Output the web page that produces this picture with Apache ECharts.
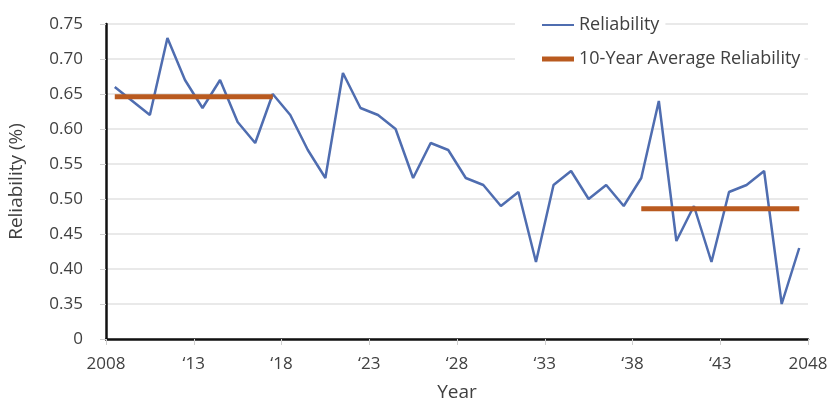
<!DOCTYPE html>
<html lang="en" style="height: 100%">

<head>
    <meta charset="UTF-8">
    <title>Reliability</title>
    <script src="https://cdn.jsdelivr.net/npm/echarts@6/dist/echarts.min.js"></script>
</head>

<body style="height: 100%; margin: 0">
    <div id="main" style="width: 832px; height: 400px"></div>
    <script>
        // one value per year, plotted in the middle of each year band
        var years = [];
        for (var y = 2009; y <= 2048; y++) years.push(y);
        var reliability = [
            0.66, 0.64, 0.62, 0.73, 0.67, 0.63, 0.67, 0.61, 0.58, 0.65,
            0.62, 0.57, 0.53, 0.68, 0.63, 0.62, 0.60, 0.53, 0.58, 0.57,
            0.53, 0.52, 0.49, 0.51, 0.41, 0.52, 0.54, 0.50, 0.52, 0.49,
            0.53, 0.64, 0.44, 0.49, 0.41, 0.51, 0.52, 0.54, 0.35, 0.43
        ];
        var xTicks = [2008, 2013, 2018, 2023, 2028, 2033, 2038, 2043, 2048];
        var xTickLabels = ['2008', '\u201813', '\u201818', '\u201823', '\u201828', '\u201833', '\u201838', '\u201843', '2048'];
        var yTicks = [0.30, 0.35, 0.40, 0.45, 0.50, 0.55, 0.60, 0.65, 0.70, 0.75];
        var yTickLabels = ['0', '0.35', '0.40', '0.45', '0.50', '0.55', '0.60', '0.65', '0.70', '0.75'];
        // the two 10-year windows (index ranges into reliability)
        var avgWindows = [[0, 10], [30, 40]];

        var textColor = '#404040';
        var font = 'Open Sans';

        var lineData = reliability.map(function (v, i) { return [years[i] - 0.5, v]; });

        var avgSeries = avgWindows.map(function (w) {
            var part = reliability.slice(w[0], w[1]);
            var mean = part.reduce(function (a, b) { return a + b; }, 0) / part.length;
            return {
                name: '10-Year Average Reliability',
                type: 'line',
                symbol: 'none',
                z: 3,
                lineStyle: { color: '#b95a1f', width: 5 },
                itemStyle: { color: '#b95a1f' },
                data: [[years[w[0]] - 0.5, mean], [years[w[1] - 1] - 0.5, mean]]
            };
        });

        var myChart = echarts.init(document.getElementById('main'));

        var option = {
            animation: false,
            textStyle: { fontFamily: font },
            grid: { left: 106, right: 24, top: 24, bottom: 61, outerBoundsMode: 'none' },
            legend: [
                {
                    data: ['Reliability'],
                    left: 515, top: 10,
                    padding: [6, 6, 4, 27],
                    backgroundColor: '#fff',
                    itemWidth: 32, itemHeight: 2, itemGap: 12,
                    icon: 'rect',
                    textStyle: { color: textColor, fontSize: 18, fontFamily: font }
                },
                {
                    data: ['10-Year Average Reliability'],
                    left: 515, top: 42,
                    padding: [8, 4, 10, 27],
                    backgroundColor: '#fff',
                    itemWidth: 32, itemHeight: 5,
                    icon: 'rect',
                    textStyle: { color: textColor, fontSize: 18, fontFamily: font }
                }
            ],
            xAxis: {
                type: 'value',
                min: 2008, max: 2048, interval: 5,
                name: 'Year',
                nameLocation: 'middle',
                nameGap: 44,
                nameTextStyle: { color: textColor, fontSize: 19, fontFamily: font },
                axisLine: { lineStyle: { color: '#111', width: 2.5 } },
                axisTick: { show: true, length: 6, lineStyle: { color: '#d0d0d0' } },
                axisLabel: {
                    color: textColor, fontSize: 17, margin: 17,
                    showMinLabel: true, showMaxLabel: true,
                    formatter: function (v) {
                        var i = xTicks.indexOf(Math.round(v));
                        return i >= 0 ? xTickLabels[i] : '';
                    }
                },
                splitLine: { show: false }
            },
            yAxis: {
                type: 'value',
                min: 0.30, max: 0.75, interval: 0.05,
                name: 'Reliability (%)',
                nameLocation: 'middle',
                nameGap: 80,
                nameTextStyle: { color: textColor, fontSize: 19, fontFamily: font },
                axisLine: { show: true, lineStyle: { color: '#111', width: 2.5 } },
                axisTick: { show: true, length: 6, lineStyle: { color: '#d0d0d0' } },
                axisLabel: {
                    color: textColor, fontSize: 17, margin: 23,
                    formatter: function (v) {
                        for (var i = 0; i < yTicks.length; i++) {
                            if (Math.abs(yTicks[i] - v) < 1e-6) return yTickLabels[i];
                        }
                        return '';
                    }
                },
                splitLine: { lineStyle: { color: '#e2e2e2', width: 1.5 } }
            },
            series: [
                {
                    name: 'Reliability',
                    type: 'line',
                    symbol: 'none',
                    z: 2,
                    lineStyle: { color: '#4f6db0', width: 2.5 },
                    itemStyle: { color: '#4f6db0' },
                    data: lineData
                }
            ].concat(avgSeries)
        };

        myChart.setOption(option);
        window.addEventListener('resize', myChart.resize);
    </script>
</body>

</html>
